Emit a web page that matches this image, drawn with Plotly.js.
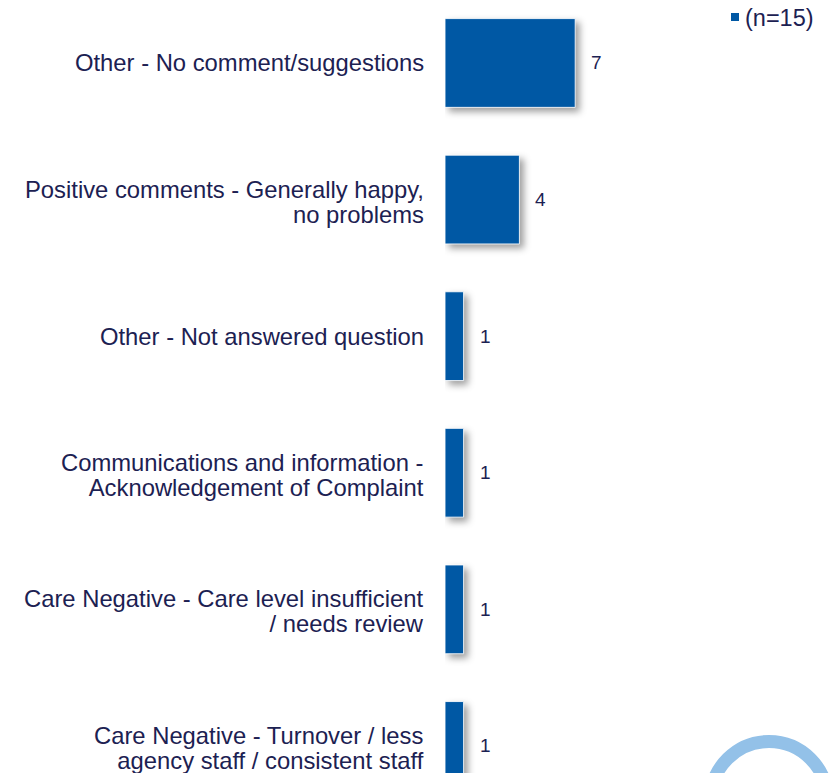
<!DOCTYPE html>
<html>
<head>
<meta charset="utf-8">
<script src="https://cdn.plot.ly/plotly-3.0.1.min.js"></script>
<style>
  html, body { margin: 0; padding: 0; background: #fff; }
  #chart { width: 830px; height: 773px; }
  .barlayer .point path { filter: drop-shadow(4px 4px 3.5px rgba(0,0,0,0.38)); }
</style>
</head>
<body>
<div id="chart"></div>
<script>
// Data
const categories = [
  "Other - No comment/suggestions",
  "Positive comments - Generally happy,<br>no problems",
  "Other - Not answered question",
  "Communications and information -<br>Acknowledgement of Complaint",
  "Care Negative - Care level insufficient<br>/ needs review",
  "Care Negative - Turnover / less<br>agency staff / consistent staff"
];
const values = [7, 4, 1, 1, 1, 1];
const seriesName = "(n=15)";

const barColor = "#0058A4";
const textColor = "#1C2152";
const fontFamily = "'Liberation Sans', Arial, sans-serif";

const bars = {
  type: "bar",
  orientation: "h",
  x: values,
  y: categories,
  name: seriesName,
  width: 0.65,
  marker: { color: barColor, line: { color: "rgba(255,255,255,0.85)", width: 1 } },
  showlegend: false,
  hoverinfo: "skip"
};

const annotations = [];
categories.forEach((cat, i) => {
  const parts = cat.split("<br>");
  // glyphs at 23.8px, line pitch 1.3 * 19.2 ≈ 25px (tight like the reference)
  const txt = parts
    .map(l => '<span style="font-size:23.8px">' + l + '</span>')
    .join("<br>");
  annotations.push({
    xref: "paper", yref: "y",
    x: 0, y: cat,
    text: txt,
    align: "right",
    showarrow: false,
    xanchor: "right", yanchor: "middle",
    xshift: -19,
    yshift: parts.length > 1 ? -2 : 0,
    font: { family: fontFamily, size: 19.2, color: textColor }
  });
  annotations.push({
    xref: "x", yref: "y",
    x: values[i], y: cat,
    text: String(values[i]),
    showarrow: false,
    xanchor: "left", yanchor: "middle",
    xshift: 14,
    font: { family: fontFamily, size: 19, color: textColor }
  });
});

// legend (drawn as annotation + swatch)
annotations.push({
  xref: "paper", yref: "paper",
  x: 1, y: 1, xanchor: "right", yanchor: "top",
  xshift: -14, yshift: -3,
  text: seriesName,
  showarrow: false,
  font: { family: fontFamily, size: 23.5, color: textColor }
});

// pixel -> paper helpers for decorations
const L = 445, W = 385, H = 773;
const px = v => (v - L) / W;
const py = v => 1 - v / H;
const cx = 769, cy = 800, r = 58.5;

const layout = {
  width: 830, height: 773,
  margin: { l: L, r: 0, t: 0, b: 0 },
  paper_bgcolor: "#ffffff",
  plot_bgcolor: "rgba(0,0,0,0)",
  font: { family: fontFamily, color: textColor },
  xaxis: { range: [0, 20.7], showgrid: false, zeroline: false, showline: false, showticklabels: false, ticks: "" },
  yaxis: {
    type: "category",
    categoryorder: "array", categoryarray: categories,
    range: [5.198, -0.461],
    showgrid: false, zeroline: false, showline: false, showticklabels: false, ticks: ""
  },
  showlegend: false,
  annotations: annotations,
  shapes: [
    {
      type: "rect", xref: "paper", yref: "paper",
      x0: px(731), x1: px(739), y0: py(21), y1: py(13),
      line: { width: 0 }, fillcolor: barColor
    },
    {
      type: "circle", xref: "paper", yref: "paper",
      x0: px(cx - r), x1: px(cx + r), y0: py(cy + r), y1: py(cy - r),
      line: { color: "#93C1E8", width: 13 },
      fillcolor: "rgba(0,0,0,0)",
      layer: "above"
    }
  ]
};

Plotly.newPlot("chart", [bars], layout, { displayModeBar: false, staticPlot: true });
</script>
</body>
</html>
